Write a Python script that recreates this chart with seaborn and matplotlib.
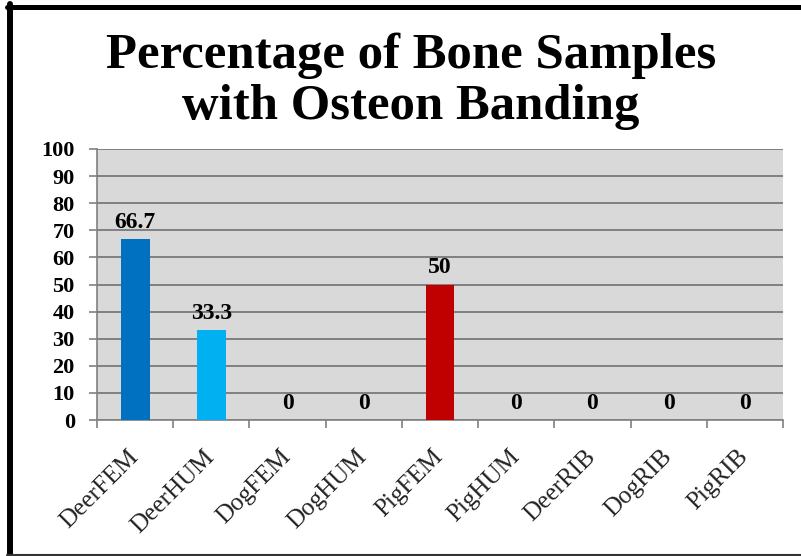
import matplotlib
matplotlib.use("Agg")
import matplotlib.pyplot as plt
from matplotlib.lines import Line2D
from matplotlib.ticker import FixedLocator
import seaborn as sns
import pandas as pd

# Samples and the share of each showing osteon banding (%)
samples = ["DeerFEM", "DeerHUM", "DogFEM", "DogHUM", "PigFEM",
           "PigHUM", "DeerRIB", "DogRIB", "PigRIB"]
banding_pct = [66.7, 33.3, 0, 0, 50, 0, 0, 0, 0]
bar_colors = ["#0070C0", "#00B0F0", "#7F7F7F", "#7F7F7F", "#C00000",
              "#7F7F7F", "#7F7F7F", "#7F7F7F", "#7F7F7F"]
y_ticks = list(range(0, 101, 10))

df = pd.DataFrame({"sample": samples, "pct": banding_pct})

sns.set_theme(style="white")
plt.rcParams["font.family"] = ["Liberation Serif", "DejaVu Serif"]

W, H = 801, 556
fig = plt.figure(figsize=(W / 100, H / 100), dpi=100)
fig.patch.set_facecolor("white")

left, right, top, bottom = 97, 783, 149, 420
ax = fig.add_axes([left / W, 1 - bottom / H, (right - left) / W, (bottom - top) / H])
ax.set_facecolor("#D9D9D9")

sns.barplot(data=df, x="sample", y="pct", hue="sample", palette=bar_colors,
            legend=False, width=0.38, saturation=1, linewidth=0, ax=ax, zorder=3)

ax.set_ylim(0, 100)
ax.set_xlim(-0.5, len(samples) - 0.5)
ax.yaxis.set_major_locator(FixedLocator(y_ticks))
ax.set_xlabel("")
ax.set_ylabel("")

# Horizontal gridlines
grid_color = "#808080"
ax.grid(axis="y", color=grid_color, linewidth=1.4, zorder=0)
ax.set_axisbelow(True)

for side in ["top", "right"]:
    ax.spines[side].set_visible(False)
for side in ["left", "bottom"]:
    ax.spines[side].set_color(grid_color)
    ax.spines[side].set_linewidth(1.2)

# Y tick labels
ax.tick_params(axis="y", which="major", direction="out", length=6, width=1.2,
               color=grid_color, left=True, pad=10)
for lbl in ax.get_yticklabels():
    lbl.set_fontweight("bold")
    lbl.set_fontsize(16)
    lbl.set_color("black")

# X ticks: marks at category boundaries, labels at category centres
ax.xaxis.set_minor_locator(FixedLocator([i - 0.5 for i in range(len(samples) + 1)]))
ax.tick_params(axis="x", which="minor", direction="out", length=6, width=1.2,
               color=grid_color, bottom=True)
ax.tick_params(axis="x", which="major", length=0, pad=24)
ax.set_xticks(range(len(samples)))
ax.set_xticklabels(samples, rotation=45, ha="right", va="center",
                   rotation_mode="anchor", fontsize=18, color="#222222")

# Value labels above each bar
for i, v in enumerate(banding_pct):
    ax.annotate(f"{v:g}", xy=(i, v), xytext=(0, 8), textcoords="offset points",
                ha="center", va="baseline", fontsize=17, fontweight="bold",
                color="black", zorder=5)

# Title
fig.text(0.513, 1 - 33 / H, "Percentage of Bone Samples\nwith Osteon Banding",
         ha="center", va="top", fontsize=36.5, fontweight="bold",
         linespacing=1.12, color="black")

# Outer frame
fig.add_artist(Line2D([7 / W, 1], [1 - 6.5 / H, 1 - 6.5 / H], color="black",
                      linewidth=3.6, transform=fig.transFigure))
fig.add_artist(Line2D([10 / W, 10 / W], [1 - 4 / H, 1 - 554 / H], color="black",
                      linewidth=4.3, transform=fig.transFigure))
fig.add_artist(Line2D([7 / W, 1], [1 - 554.5 / H, 1 - 554.5 / H], color="#333333",
                      linewidth=1.5, transform=fig.transFigure))

fig.savefig("out.png", dpi=100, facecolor="white")
